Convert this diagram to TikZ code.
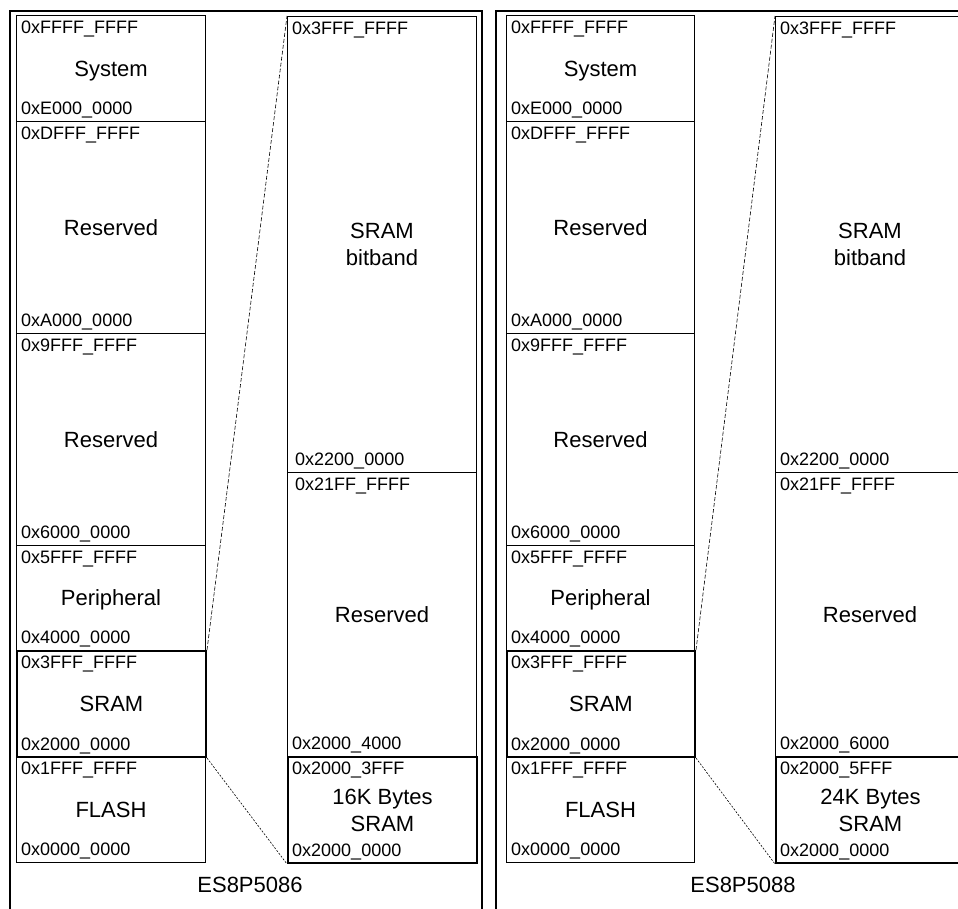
\documentclass[tikz,border=0pt]{standalone}
\usepackage{fontspec}
\setmainfont{Liberation Sans}
\newcommand\mreg[9]{%
  \node[#2, minimum width=#5pt, minimum height=#6pt] (#1) at (#3,#4) {};
  \node[addr] (#1-t) at ([xshift=5pt,yshift=-18pt]#1.north west) {#7};
  \node[addr] (#1-b) at ([xshift=5pt,yshift=8pt]#1.south west) {#8};
  \node[lbl] (#1-c) at (#1.center) {#9};
}
\begin{document}
\begin{tikzpicture}[x=1pt,y=-1pt,
  region/.style={draw, line width=1pt, rectangle, inner sep=0pt, anchor=north west},
  thickregion/.style={region, line width=2pt},
  addr/.style={font=\fontsize{18}{20}\selectfont, anchor=base west, inner sep=0pt},
  lbl/.style={font=\fontsize{22}{27}\selectfont, align=center, inner sep=0pt, text depth=0pt},
  frameline/.style={line width=2.5pt},
  zoomtop/.style={line width=0.6pt, dash pattern=on 4pt off 2pt},
  zoombot/.style={line width=0.6pt, dash pattern=on 2pt off 1.5pt}]
\useasboundingbox (0,0) rectangle (958,908);
\clip (0,0) rectangle (958,908);
% ---------- panel 1 ----------
\draw[frameline] (10,920) -- (10,11) -- (482,11) -- (482,920);
\mreg{sysA}{region}{16}{15}{189}{106}{0xFFFF\_FFFF}{0xE000\_0000}{System}
\mreg{resA1}{region}{16}{121}{189}{212}{0xDFFF\_FFFF}{0xA000\_0000}{Reserved}
\mreg{resA2}{region}{16}{333}{189}{212}{0x9FFF\_FFFF}{0x6000\_0000}{Reserved}
\mreg{perA}{region}{16}{545}{189}{105}{0x5FFF\_FFFF}{0x4000\_0000}{Peripheral}
\mreg{flashA}{region}{16}{756}{189}{106}{0x1FFF\_FFFF}{0x0000\_0000}{FLASH}
\mreg{sramA}{thickregion}{16}{650}{189}{106}{0x3FFF\_FFFF}{0x2000\_0000}{SRAM}
\mreg{bbA}{region}{287}{16}{189}{456}{0x3FFF\_FFFF}{}{SRAM\\bitband}
\node[addr] (bbA-b2) at ([xshift=8pt,yshift=8pt]bbA.south west) {0x2200\_0000};
\mreg{rsvA}{region}{287}{472}{189}{284}{}{0x2000\_4000}{Reserved}
\node[addr] (rsvA-t2) at ([xshift=8pt,yshift=-18pt]rsvA.north west) {0x21FF\_FFFF};
\mreg{memA}{thickregion}{287}{756}{189}{106}{0x2000\_3FFF}{0x2000\_0000}{16K Bytes\\SRAM}
\draw[zoomtop] (sramA.north east) -- (bbA.north west);
\draw[zoombot] (sramA.south east) -- (memA.south west);
\node[lbl, anchor=base] (titleA) at (250,892) {ES8P5086};
% ---------- panel 2 ----------
\draw[frameline] (496,920) -- (496,11) -- (975,11);
\mreg{sysB}{region}{506}{15}{188}{106}{0xFFFF\_FFFF}{0xE000\_0000}{System}
\mreg{resB1}{region}{506}{121}{188}{212}{0xDFFF\_FFFF}{0xA000\_0000}{Reserved}
\mreg{resB2}{region}{506}{333}{188}{212}{0x9FFF\_FFFF}{0x6000\_0000}{Reserved}
\mreg{perB}{region}{506}{545}{188}{105}{0x5FFF\_FFFF}{0x4000\_0000}{Peripheral}
\mreg{flashB}{region}{506}{756}{188}{106}{0x1FFF\_FFFF}{0x0000\_0000}{FLASH}
\mreg{sramB}{thickregion}{506}{650}{188}{106}{0x3FFF\_FFFF}{0x2000\_0000}{SRAM}
\mreg{bbB}{region}{775}{16}{189}{456}{0x3FFF\_FFFF}{0x2200\_0000}{SRAM\\bitband}
\mreg{rsvB}{region}{775}{472}{189}{284}{0x21FF\_FFFF}{0x2000\_6000}{Reserved}
\mreg{memB}{thickregion}{775}{756}{189}{106}{0x2000\_5FFF}{0x2000\_0000}{24K Bytes\\SRAM}
\draw[zoomtop] (sramB.north east) -- (bbB.north west);
\draw[zoombot] (sramB.south east) -- (memB.south west);
\node[lbl, anchor=base] (titleB) at (743,892) {ES8P5088};
\end{tikzpicture}
\end{document}
